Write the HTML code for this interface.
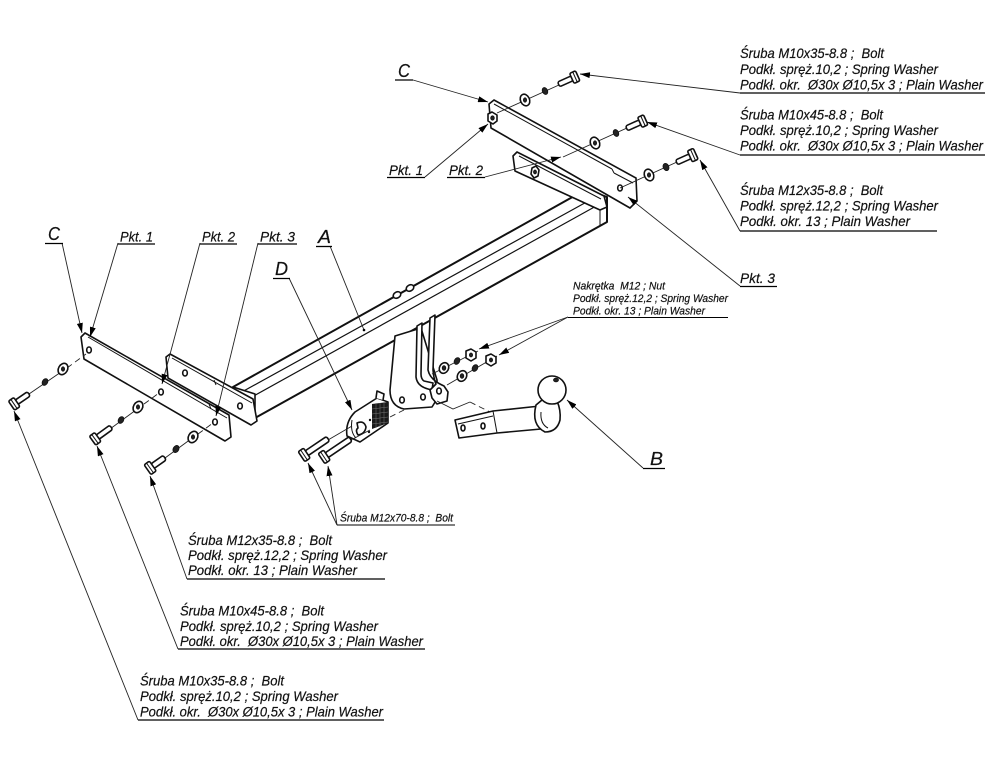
<!DOCTYPE html>
<html><head><meta charset="utf-8"><style>
html,body{margin:0;padding:0;background:#fff;}
svg{display:block;}
text{font-family:"Liberation Sans",Arial,sans-serif;font-style:italic;fill:#111;stroke:#111;stroke-width:0.2;white-space:pre;}
.s{fill:#fff;stroke:#111;stroke-width:1.6;stroke-linejoin:round;}
.t{fill:none;stroke:#111;stroke-width:1;}
.l{fill:none;stroke:#222;stroke-width:0.9;}
.u{stroke:#000;stroke-width:1.3;}
.d{fill:none;stroke:#222;stroke-width:0.9;stroke-dasharray:6 4;}
.dk{fill:#222;stroke:#111;stroke-width:0.8;}
</style></head><body>
<svg width="1000" height="772" viewBox="0 0 1000 772" xmlns="http://www.w3.org/2000/svg">
<defs>
<marker id="ar" markerWidth="10" markerHeight="6" refX="10" refY="3" orient="auto" markerUnits="userSpaceOnUse"><path d="M0,0 L10,3 L0,6 Z" fill="#000"/></marker>
</defs>

<!-- ===== MAIN TUBE ===== -->
<polygon class="s" points="585,190 607,197 607,222 255,418 235,411 233,387" style="stroke-width:2"/>
<line class="t" x1="592" y1="199" x2="240" y2="393" style="stroke-width:1.2"/>
<line class="t" x1="598" y1="205" x2="250" y2="398" style="stroke-width:1.2"/>
<polygon class="s" points="233,387 255,394 255,418 235,411"/>
<ellipse class="t" cx="241" cy="404" rx="2" ry="3"/>
<line class="t" x1="600" y1="200" x2="600" y2="225"/>
<!-- nuts on tube -->
<ellipse class="s" cx="397" cy="295" rx="4" ry="3" transform="rotate(-30 397 295)"/>
<ellipse class="s" cx="410" cy="288" rx="4" ry="3" transform="rotate(-30 410 288)"/>

<!-- ===== TOP BRACKET ===== -->
<polygon class="s" points="513,156 517,152 604,196 607,207 600,210 515,171"/>
<line class="t" x1="519" y1="156" x2="601" y2="199"/>
<polygon class="s" points="532,168 536,166 539,170 538,176 534,178 531,174"/>
<ellipse class="dk" cx="535" cy="172" rx="1.5" ry="2"/>
<!-- pin -->
<path class="s" d="M551,160 L563,154 L566,157 L554,163 Z"/>
<polygon class="s" points="489,104 494,100 636,178 637,201 630,208 491,128"/>
<line class="t" x1="494" y1="104" x2="612" y2="169"/>
<line class="t" x1="612" y1="169" x2="614" y2="173"/>
<line class="t" x1="614" y1="173" x2="633" y2="183"/>
<polygon class="s" points="488,114 492,112 497,115 497,121 493,124 488,121"/>
<ellipse class="dk" cx="492.5" cy="118" rx="1.8" ry="2.2"/>
<ellipse class="s" cx="620" cy="188" rx="2.3" ry="3"/>

<!-- top bolts -->
<line class="l" x1="570" y1="80" x2="497" y2="113"/>
<line class="l" x1="638" y1="123" x2="563" y2="157"/>
<line class="l" x1="688" y1="157" x2="620" y2="188"/>
<g transform="translate(575,77) rotate(155.8)"><rect class="s" x="3" y="-2.6" width="15" height="5.2" rx="2"/><rect class="s" x="-3" y="-5.5" width="6.5" height="11" rx="1.5"/><line class="t" x1="0" y1="-5.5" x2="0" y2="5.5"/></g>
<g transform="translate(643,121) rotate(155.8)"><rect class="s" x="3" y="-2.6" width="15" height="5.2" rx="2"/><rect class="s" x="-3" y="-5.5" width="6.5" height="11" rx="1.5"/><line class="t" x1="0" y1="-5.5" x2="0" y2="5.5"/></g>
<g transform="translate(693,155) rotate(155.8)"><rect class="s" x="3" y="-2.6" width="15" height="5.2" rx="2"/><rect class="s" x="-3" y="-6" width="6.5" height="12" rx="1.5"/><line class="t" x1="0" y1="-6" x2="0" y2="6"/></g>
<ellipse class="dk" cx="545" cy="91" rx="2.6" ry="3.6" transform="rotate(-25 545 91)"/>
<ellipse class="s" cx="525" cy="100" rx="4.5" ry="6" transform="rotate(-25 525 100)"/><ellipse class="dk" cx="525" cy="100" rx="1.6" ry="2.2"/>
<ellipse class="dk" cx="616" cy="133" rx="2.6" ry="3.6" transform="rotate(-25 616 133)"/>
<ellipse class="s" cx="595" cy="143" rx="4.5" ry="6" transform="rotate(-25 595 143)"/><ellipse class="dk" cx="595" cy="143" rx="1.6" ry="2.2"/>
<ellipse class="dk" cx="666" cy="167" rx="2.8" ry="3.8" transform="rotate(-25 666 167)"/>
<ellipse class="s" cx="649" cy="175" rx="4.5" ry="6" transform="rotate(-25 649 175)"/><ellipse class="dk" cx="649" cy="175" rx="1.6" ry="2.2"/>

<!-- ===== LEFT BRACKET ===== -->
<polygon class="s" points="166,357 170,354 253,399 257,421 251,425 168,378"/>
<line class="t" x1="172" y1="358" x2="252" y2="403"/>
<line class="t" x1="214" y1="380" x2="216" y2="385"/>
<ellipse class="s" cx="185" cy="373" rx="2.3" ry="3"/>
<ellipse class="s" cx="240" cy="406" rx="2.3" ry="3"/>
<polygon class="s" points="81,337 85,333 229,415 231,437 225,441 84,359"/>
<line class="t" x1="88" y1="337" x2="227" y2="418"/>
<line class="t" x1="209" y1="404" x2="211" y2="409"/>
<ellipse class="s" cx="89" cy="350" rx="2.3" ry="3"/>
<ellipse class="s" cx="161" cy="392" rx="2.3" ry="3"/>
<ellipse class="s" cx="215" cy="422" rx="2.3" ry="3"/>

<!-- left bolts -->
<line class="l" x1="29" y1="394" x2="64" y2="370"/>
<line class="d" x1="67" y1="368" x2="86" y2="354"/>
<line class="l" x1="110" y1="429" x2="140" y2="407"/>
<line class="d" x1="144" y1="404" x2="159" y2="393"/>
<line class="l" x1="165" y1="458" x2="195" y2="436"/>
<line class="d" x1="198" y1="434" x2="213" y2="423"/>
<g transform="translate(14,404) rotate(-34.4)"><rect class="s" x="3" y="-2.6" width="15" height="5.2" rx="2"/><rect class="s" x="-3" y="-5.5" width="6.5" height="11" rx="1.5"/><line class="t" x1="0" y1="-5.5" x2="0" y2="5.5"/></g>
<g transform="translate(95,439) rotate(-35.9)"><rect class="s" x="3" y="-2.6" width="17" height="5.2" rx="2"/><rect class="s" x="-3" y="-5.5" width="6.5" height="11" rx="1.5"/><line class="t" x1="0" y1="-5.5" x2="0" y2="5.5"/></g>
<g transform="translate(150,468) rotate(-35.3)"><rect class="s" x="3" y="-2.8" width="15" height="5.6" rx="2"/><rect class="s" x="-3" y="-6" width="6.5" height="12" rx="1.5"/><line class="t" x1="0" y1="-6" x2="0" y2="6"/></g>
<ellipse class="dk" cx="45" cy="382" rx="2.6" ry="3.6" transform="rotate(30 45 382)"/>
<ellipse class="s" cx="63" cy="369" rx="4.5" ry="6" transform="rotate(30 63 369)"/><ellipse class="dk" cx="63" cy="369" rx="1.6" ry="2.2"/>
<ellipse class="dk" cx="121" cy="420" rx="2.6" ry="3.6" transform="rotate(30 121 420)"/>
<ellipse class="s" cx="138" cy="407" rx="4.5" ry="6" transform="rotate(30 138 407)"/><ellipse class="dk" cx="138" cy="407" rx="1.6" ry="2.2"/>
<ellipse class="dk" cx="176" cy="449" rx="2.8" ry="3.8" transform="rotate(30 176 449)"/>
<ellipse class="s" cx="193" cy="437" rx="4.5" ry="6" transform="rotate(30 193 437)"/><ellipse class="dk" cx="193" cy="437" rx="1.6" ry="2.2"/>

<!-- ===== HITCH BRACKET ===== -->
<path class="s" d="M395,336 L390,390 Q390,406 404,409 L432,407 L437,399 L437,380 L421,328 Z"/>
<path class="s" d="M417,326 L416,377 Q417,386 428,389 L432,390 L433,383 L424,381 Q421,379 421,374 L422,323 Z"/>
<path class="s" d="M430,318 L428,370 Q430,380 444,386 L448,392 L447,401 L437,404 L432,398 L430,390 L436,384 Q434,380 433,370 L435,315 Z"/>
<ellipse class="s" cx="402" cy="400" rx="2.3" ry="3"/>
<ellipse class="s" cx="423" cy="397" rx="2.3" ry="3"/>
<ellipse class="s" cx="439" cy="391" rx="2.3" ry="3"/>
<!-- nuts / washers rows -->
<line class="l" x1="432" y1="374" x2="478" y2="351"/>
<line class="l" x1="447" y1="385" x2="497" y2="356"/>
<ellipse class="s" cx="444" cy="368" rx="4.5" ry="5.5" transform="rotate(30 444 368)"/><ellipse class="dk" cx="444" cy="368" rx="1.8" ry="2.3"/>
<ellipse class="dk" cx="457" cy="361" rx="2.6" ry="3.6" transform="rotate(30 457 361)"/>
<polygon class="s" points="466,351 471,349 476,352 476,358 471,361 466,358"/><ellipse class="dk" cx="471" cy="355" rx="1.6" ry="2"/>
<ellipse class="s" cx="462" cy="376" rx="4.5" ry="5.5" transform="rotate(30 462 376)"/><ellipse class="dk" cx="462" cy="376" rx="1.8" ry="2.3"/>
<ellipse class="dk" cx="475" cy="368" rx="2.6" ry="3.6" transform="rotate(30 475 368)"/>
<polygon class="s" points="486,356 491,354 496,357 496,363 491,366 486,363"/><ellipse class="dk" cx="491" cy="360" rx="1.6" ry="2"/>

<!-- dashed link to bar -->
<polyline class="l" points="437,401 453,409 470,402"/>
<line class="d" x1="470" y1="402" x2="492" y2="413"/>

<!-- ===== BALL BAR ===== -->
<polygon class="s" points="455,420 493,411 540,406 541,429 497,433 459,438"/>
<line class="t" x1="458" y1="424" x2="493" y2="416"/>
<line class="t" x1="493" y1="411" x2="497" y2="433"/>
<line class="t" x1="455" y1="420" x2="459" y2="438"/>
<ellipse class="s" cx="463" cy="428" rx="2" ry="3"/>
<ellipse class="s" cx="483" cy="426" rx="2" ry="3"/>
<path class="s" d="M536,405 Q531,425 545,432 Q557,432 560,420 Q561,410 557,401 L542,400 Z"/>
<path class="t" d="M541,412 Q540,424 548,428"/>
<circle class="s" cx="552" cy="390" r="14"/>
<ellipse class="dk" cx="556" cy="380" rx="2.5" ry="1.8"/>

<!-- ===== D PLATE + M12x70 BOLTS ===== -->
<line class="d" x1="390" y1="417" x2="404" y2="410"/>
<path class="s" d="M347,436 Q345,422 355,412 L377,398 L388,402 L388,423 L360,442 Z"/>
<path class="s" d="M376,398 L377,391 L384,394 L383,400"/>
<polygon points="372,404 388,402 388,423 372,429" fill="#1a1a1a"/>
<g stroke="#777" stroke-width="0.5">
<line x1="372" y1="409" x2="388" y2="407"/><line x1="372" y1="414" x2="388" y2="412"/><line x1="372" y1="419" x2="388" y2="417"/><line x1="372" y1="424" x2="388" y2="422"/>
<line x1="376" y1="403" x2="376" y2="428"/><line x1="380" y1="403" x2="380" y2="427"/><line x1="384" y1="402" x2="384" y2="425"/>
</g>
<path class="t" d="M352,420 Q350,432 356,438"/>
<path class="s" d="M357,423 Q364,420 366,427 Q365,434 358,435 Q355,430 358,428 Z"/>
<circle class="dk" cx="370" cy="420" r="0.8"/><circle class="dk" cx="369" cy="432" r="0.8"/>
<line class="l" x1="328" y1="440" x2="352" y2="426"/>
<line class="l" x1="349" y1="441" x2="370" y2="430"/>
<g transform="translate(304,455) rotate(-34)"><rect class="s" x="3" y="-2.8" width="26" height="5.6" rx="2"/><rect class="s" x="-3" y="-6" width="6.5" height="12" rx="1.5"/><line class="t" x1="0" y1="-6" x2="0" y2="6"/></g>
<g transform="translate(324,457) rotate(-34)"><rect class="s" x="3" y="-2.8" width="29" height="5.6" rx="2"/><rect class="s" x="-3" y="-6" width="6.5" height="12" rx="1.5"/><line class="t" x1="0" y1="-6" x2="0" y2="6"/></g>

<!-- ===== LEADERS ===== -->
<g class="l" marker-end="url(#ar)">
<path d="M740,93 L580,74"/>
<path d="M740,155 L647,122"/>
<path d="M740,231 L700,160"/>
<path d="M740,286 L628,197"/>
<path d="M413,80 L488,102"/>
<path d="M425,177 L488,124"/>
<path d="M485,177 L561,157"/>
<path d="M62,243 L82,333"/>
<path d="M118,243 L90,337"/>
<path d="M200,243 L162,384"/>
<path d="M258,243 L216,416"/>
<path d="M289,278 L352,410"/>
<path d="M568,317 L479,349"/>
<path d="M568,317 L499,355"/>
<path d="M643,468 L567,400"/>
<path d="M337,525 L308,463"/>
<path d="M337,525 L328,466"/>
<path d="M138,720 L14,411"/>
<path d="M178,649 L97,446"/>
<path d="M187,579 L150,476"/>
</g>
<path class="l" d="M330,246 L364,330"/>
<circle cx="364" cy="330" r="1.3" fill="#000"/>

<!-- ===== LABELS ===== -->
<text x="398" y="77" font-size="18" textLength="12" lengthAdjust="spacingAndGlyphs">C</text>
<line class="u" x1="395" y1="80" x2="413" y2="80"/>
<text x="389" y="175" font-size="14" textLength="34" lengthAdjust="spacingAndGlyphs">Pkt. 1</text>
<line class="u" x1="387" y1="177.5" x2="425" y2="177.5"/>
<text x="449" y="175" font-size="14" textLength="34" lengthAdjust="spacingAndGlyphs">Pkt. 2</text>
<line class="u" x1="447" y1="177.5" x2="485" y2="177.5"/>

<text x="48" y="240" font-size="18" textLength="12" lengthAdjust="spacingAndGlyphs">C</text>
<line class="u" x1="45" y1="243.5" x2="63" y2="243.5"/>
<text x="120" y="241.5" font-size="14" textLength="33" lengthAdjust="spacingAndGlyphs">Pkt. 1</text>
<line class="u" x1="118" y1="244" x2="155" y2="244"/>
<text x="202" y="241.5" font-size="14" textLength="33" lengthAdjust="spacingAndGlyphs">Pkt. 2</text>
<line class="u" x1="200" y1="244" x2="237" y2="244"/>
<text x="260" y="241.5" font-size="14" textLength="35" lengthAdjust="spacingAndGlyphs">Pkt. 3</text>
<line class="u" x1="258" y1="244" x2="297" y2="244"/>
<text x="318" y="243" font-size="18" textLength="13" lengthAdjust="spacingAndGlyphs">A</text>
<line class="u" x1="316" y1="246.5" x2="332" y2="246.5"/>
<text x="275" y="275" font-size="18" textLength="13" lengthAdjust="spacingAndGlyphs">D</text>
<line class="u" x1="273" y1="278.5" x2="290" y2="278.5"/>
<text x="650" y="465" font-size="18" textLength="13" lengthAdjust="spacingAndGlyphs">B</text>
<line class="u" x1="643" y1="468.5" x2="665" y2="468.5"/>

<!-- text blocks -->
<g font-size="14">
<text x="740" y="58" textLength="144" lengthAdjust="spacingAndGlyphs">Śruba M10x35-8.8 ;  Bolt</text>
<text x="740" y="74" textLength="198" lengthAdjust="spacingAndGlyphs">Podkł. spręż.10,2 ; Spring Washer</text>
<text x="740" y="89.5" textLength="243" lengthAdjust="spacingAndGlyphs">Podkł. okr.  Ø30x Ø10,5x 3 ; Plain Washer</text>
<text x="740" y="119.5" textLength="143" lengthAdjust="spacingAndGlyphs">Śruba M10x45-8.8 ;  Bolt</text>
<text x="740" y="135" textLength="198" lengthAdjust="spacingAndGlyphs">Podkł. spręż.10,2 ; Spring Washer</text>
<text x="740" y="150.5" textLength="243" lengthAdjust="spacingAndGlyphs">Podkł. okr.  Ø30x Ø10,5x 3 ; Plain Washer</text>
<text x="740" y="195" textLength="143" lengthAdjust="spacingAndGlyphs">Śruba M12x35-8.8 ;  Bolt</text>
<text x="740" y="210.5" textLength="198" lengthAdjust="spacingAndGlyphs">Podkł. spręż.12,2 ; Spring Washer</text>
<text x="740" y="226" textLength="170" lengthAdjust="spacingAndGlyphs">Podkł. okr. 13 ; Plain Washer</text>
<text x="740" y="283" textLength="35" lengthAdjust="spacingAndGlyphs">Pkt. 3</text>

<text x="188" y="545" textLength="144" lengthAdjust="spacingAndGlyphs">Śruba M12x35-8.8 ;  Bolt</text>
<text x="188" y="560" textLength="199" lengthAdjust="spacingAndGlyphs">Podkł. spręż.12,2 ; Spring Washer</text>
<text x="188" y="575" textLength="169" lengthAdjust="spacingAndGlyphs">Podkł. okr. 13 ; Plain Washer</text>
<text x="180" y="615.5" textLength="144" lengthAdjust="spacingAndGlyphs">Śruba M10x45-8.8 ;  Bolt</text>
<text x="180" y="631" textLength="198" lengthAdjust="spacingAndGlyphs">Podkł. spręż.10,2 ; Spring Washer</text>
<text x="180" y="646" textLength="243" lengthAdjust="spacingAndGlyphs">Podkł. okr.  Ø30x Ø10,5x 3 ; Plain Washer</text>
<text x="140" y="685.5" textLength="144" lengthAdjust="spacingAndGlyphs">Śruba M10x35-8.8 ;  Bolt</text>
<text x="140" y="701" textLength="198" lengthAdjust="spacingAndGlyphs">Podkł. spręż.10,2 ; Spring Washer</text>
<text x="140" y="716.5" textLength="243" lengthAdjust="spacingAndGlyphs">Podkł. okr.  Ø30x Ø10,5x 3 ; Plain Washer</text>
</g>
<line class="u" x1="740" y1="93" x2="985" y2="93"/>
<line class="u" x1="740" y1="155" x2="985" y2="155"/>
<line class="u" x1="740" y1="231" x2="937" y2="231"/>
<line class="u" x1="740" y1="286.5" x2="777" y2="286.5"/>
<line class="u" x1="187" y1="579" x2="385" y2="579"/>
<line class="u" x1="178" y1="649" x2="425" y2="649"/>
<line class="u" x1="138" y1="720" x2="384" y2="720"/>

<g font-size="11">
<text x="573" y="289.5" textLength="92" lengthAdjust="spacingAndGlyphs">Nakrętka  M12 ; Nut</text>
<text x="573" y="302" textLength="155" lengthAdjust="spacingAndGlyphs">Podkł. spręż.12,2 ; Spring Washer</text>
<text x="573" y="314.5" textLength="132" lengthAdjust="spacingAndGlyphs">Podkł. okr. 13 ; Plain Washer</text>
<text x="340" y="521.5" textLength="113" lengthAdjust="spacingAndGlyphs">Śruba M12x70-8.8 ;  Bolt</text>
</g>
<line class="u" x1="568" y1="317.5" x2="728" y2="317.5" style="stroke-width:1"/>
<line class="u" x1="337" y1="525" x2="455" y2="525" style="stroke-width:1"/>
</svg>
</body></html>
